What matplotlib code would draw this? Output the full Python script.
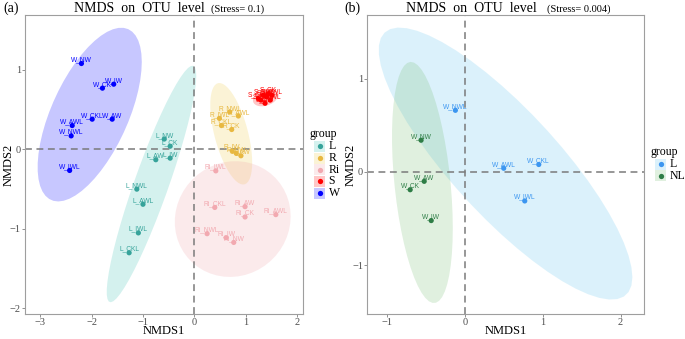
import numpy as np
import matplotlib
matplotlib.use("Agg")
import matplotlib.pyplot as plt
from matplotlib.patches import Polygon, Rectangle
from matplotlib.lines import Line2D

# ---------------- data (panel a) ----------------
groups_a = ["L", "R", "Ri", "S", "W"]
suffixes = ["CK", "AW", "IW", "NW", "CKL", "AWL", "IWL", "NWL"]
L_x = [-0.47, -0.75, -0.47, -0.585, -1.27, -1.00, -1.09, -1.12]
L_y = [0.04, -0.13, -0.11, 0.13, -1.30, -0.69, -1.05, -0.50]
R_x = [0.73, 0.91, 0.74, 0.82, 0.53, 0.86, 0.49, 0.69]
R_y = [0.25, -0.08, -0.02, -0.05, 0.30, 0.42, 0.39, 0.47]
Ri_x = [0.99, 0.99, 0.62, 0.77, 0.40, 1.59, 0.42, 0.25]
Ri_y = [-0.85, -0.72, -1.11, -1.17, -0.73, -0.82, -0.27, -1.06]
S_x = [1.44, 1.38, 1.30, 1.35, 1.25, 1.51, 1.41, 1.48]
S_y = [0.70, 0.58, 0.62, 0.68, 0.64, 0.68, 0.66, 0.62]
W_x = [-1.79, -1.60, -1.57, -2.20, -1.99, -2.38, -2.43, -2.40]
W_y = [0.77, 0.38, 0.82, 1.08, 0.38, 0.30, -0.265, 0.17]
xs_a = {"L": L_x, "R": R_x, "Ri": Ri_x, "S": S_x, "W": W_x}
ys_a = {"L": L_y, "R": R_y, "Ri": Ri_y, "S": S_y, "W": W_y}

# ---------------- data (panel b) ----------------
groups_b = ["L", "NL"]
b_L_labels = ["W_NWL", "W_AWL", "W_CKL", "W_IWL"]
b_L_x = [-0.12, 0.50, 0.95, 0.77]
b_L_y = [0.66, 0.04, 0.08, -0.31]
b_NL_labels = ["W_NW", "W_AW", "W_CK", "W_IW"]
b_NL_x = [-0.56, -0.52, -0.70, -0.43]
b_NL_y = [0.34, -0.10, -0.19, -0.52]

stress_a = "0.1"
stress_b = "0.004"

# ---------------- style ----------------
col_a = {"L": "#36A39A", "R": "#E8B840", "Ri": "#F2A9B0", "S": "#FF0000", "W": "#0000FF"}
fill_a = {"L": "#3CC0B4", "R": "#EFCB45", "Ri": "#F0A0A8", "S": "#FF0000", "W": "#0000FF"}
col_b = {"L": "#3C96F0", "NL": "#2E7D46"}
fill_b = {"L": "#5FC3EE", "NL": "#73BC70"}
ell_alpha = 0.22

SERIF = ["Liberation Serif", "DejaVu Serif"]
SANS = ["Liberation Sans", "DejaVu Sans"]
plt.rcParams["font.family"] = SERIF
plt.rcParams["axes.unicode_minus"] = True


def cov_trob(x, nu=5, maxit=25, tol=0.01):
    n, p = x.shape
    wt = np.ones(n)
    loc = x.mean(0)
    w = np.sqrt(wt)
    X = x - loc
    for _ in range(maxit):
        w0 = w
        X = x - loc
        U, d, Vt = np.linalg.svd(np.sqrt(w / w.sum())[:, None] * X, full_matrices=False)
        wX = X @ Vt.T @ np.diag(1 / d)
        Q = (wX ** 2).sum(1)
        w = (wt * (nu + p)) / (nu + Q)
        loc = (w[:, None] * x).sum(0) / w.sum()
        if np.all(np.abs(w - w0) < tol):
            break
    sw = np.sqrt(w)[:, None] * X
    cov = sw.T @ sw / wt.sum()
    return loc, cov


def ellipse_pts(xv, yv, level=0.95, segments=51):
    data = np.column_stack([xv, yv]).astype(float)
    n = len(data)
    loc, cov = cov_trob(data)
    dfd = n - 1
    qf = dfd / 2.0 * ((1 - level) ** (-2.0 / dfd) - 1)
    radius = np.sqrt(2 * qf)
    L = np.linalg.cholesky(cov)
    ang = np.linspace(0, 2 * np.pi, segments + 1)
    uc = np.column_stack([np.cos(ang), np.sin(ang)])
    return loc + radius * (uc @ L.T)


fig = plt.figure(figsize=(6.85, 3.39), dpi=100)
W, H = 685.0, 339.0


def add_axes_px(x0, x1, y0, y1):
    return fig.add_axes([x0 / W, 1 - y1 / H, (x1 - x0) / W, (y1 - y0) / H])


def style_axes(ax, ylab_x):
    for s in ax.spines.values():
        s.set_color("#9E9E9E")
        s.set_linewidth(0.8)
    ax.tick_params(direction="out", length=2, width=0.6, color="#7F7F7F",
                   labelsize=7.5, labelcolor="#4D4D4D", pad=1.0)
    for lab in ax.get_xticklabels() + ax.get_yticklabels():
        lab.set_family(SERIF)
    ax.axhline(0, color="#7A7A7A", lw=1.1, ls=(0, (4.5, 3)), zorder=1)
    ax.axvline(0, color="#7A7A7A", lw=1.1, ls=(0, (4.5, 3)), zorder=1)
    ax.set_xlabel("NMDS1", fontsize=9)
    ax.set_ylabel("NMDS2", fontsize=9)
    ax.xaxis.set_label_coords(0.5, -0.037)
    ax.yaxis.set_label_coords(ylab_x, 0.5)


def plot_group(ax, xv, yv, labels, col, fill):
    e = ellipse_pts(xv, yv)
    ax.add_patch(Polygon(e, closed=True, facecolor=fill, alpha=ell_alpha,
                         edgecolor="none", zorder=0.5))
    ax.scatter(xv, yv, s=14, color=col, edgecolors="none", zorder=3)
    for x, y, t in zip(xv, yv, labels):
        ax.annotate(t, (x, y), xytext=(0, 1.6), textcoords="offset points",
                    ha="center", va="baseline", fontsize=4.8, color=col,
                    family=SANS, zorder=4)


def legend_px(title, items, x_key, y_title, ys):
    fig.text((x_key - 10) / W, 1 - y_title / H, title, fontsize=8.5,
             ha="left", va="center", family=SERIF)
    for (lab, col, fill), yc in zip(items, ys):
        fig.patches.append(Rectangle(((x_key - 5.5) / W, 1 - (yc + 5.5) / H), 11 / W, 11 / H,
                                     transform=fig.transFigure, facecolor=fill,
                                     alpha=ell_alpha, edgecolor="none"))
        fig.lines.append(Line2D([x_key / W], [1 - yc / H], transform=fig.transFigure,
                                marker="o", ms=3.8, color=col, mec="none", ls=""))
        fig.text((x_key + 9) / W, 1 - yc / H, lab, fontsize=8.5, ha="left",
                 va="center", family=SERIF)


# ---------------- panel a ----------------
axa = add_axes_px(25, 303, 15, 314)
for g in groups_a:
    plot_group(axa, xs_a[g], ys_a[g], [g + "_" + s for s in suffixes], col_a[g], fill_a[g])
axa.set_xlim(-3.30, 2.12)
axa.set_ylim(-2.07, 1.69)
axa.set_xticks([-3, -2, -1, 0, 1, 2])
axa.set_yticks([-2, -1, 0, 1])
style_axes(axa, -0.036)
axa.text(0.647, 1.010, "NMDS  on  OTU  level", transform=axa.transAxes,
         ha="right", va="baseline", fontsize=10)
axa.text(0.668, 1.010, "(Stress= " + stress_a + ")", transform=axa.transAxes,
         ha="left", va="baseline", fontsize=7.5)
fig.text(3 / W, 1 - 8 / H, "(a)", fontsize=10, ha="left", va="center")
legend_px("group", [(g, col_a[g], fill_a[g]) for g in groups_a],
          319.5, 134.5, [146.3, 158, 169.7, 181.4, 193])

# ---------------- panel b ----------------
axb = add_axes_px(367.3, 644, 15, 314)
plot_group(axb, b_L_x, b_L_y, b_L_labels, col_b["L"], fill_b["L"])
plot_group(axb, b_NL_x, b_NL_y, b_NL_labels, col_b["NL"], fill_b["NL"])
axb.set_xlim(-1.25, 2.30)
axb.set_ylim(-1.52, 1.68)
axb.set_xticks([-1, 0, 1, 2])
axb.set_yticks([-1, 0, 1])
style_axes(axb, -0.040)
axb.text(0.612, 1.010, "NMDS  on  OTU  level", transform=axb.transAxes,
         ha="right", va="baseline", fontsize=10)
axb.text(0.648, 1.010, "(Stress= " + stress_b + ")", transform=axb.transAxes,
         ha="left", va="baseline", fontsize=7.5)
fig.text(344 / W, 1 - 8 / H, "(b)", fontsize=10, ha="left", va="center")
legend_px("group", [(g, col_b[g], fill_b[g]) for g in groups_b],
          660.5, 152, [164.3, 175.8])

fig.savefig("out.png", dpi=100)
